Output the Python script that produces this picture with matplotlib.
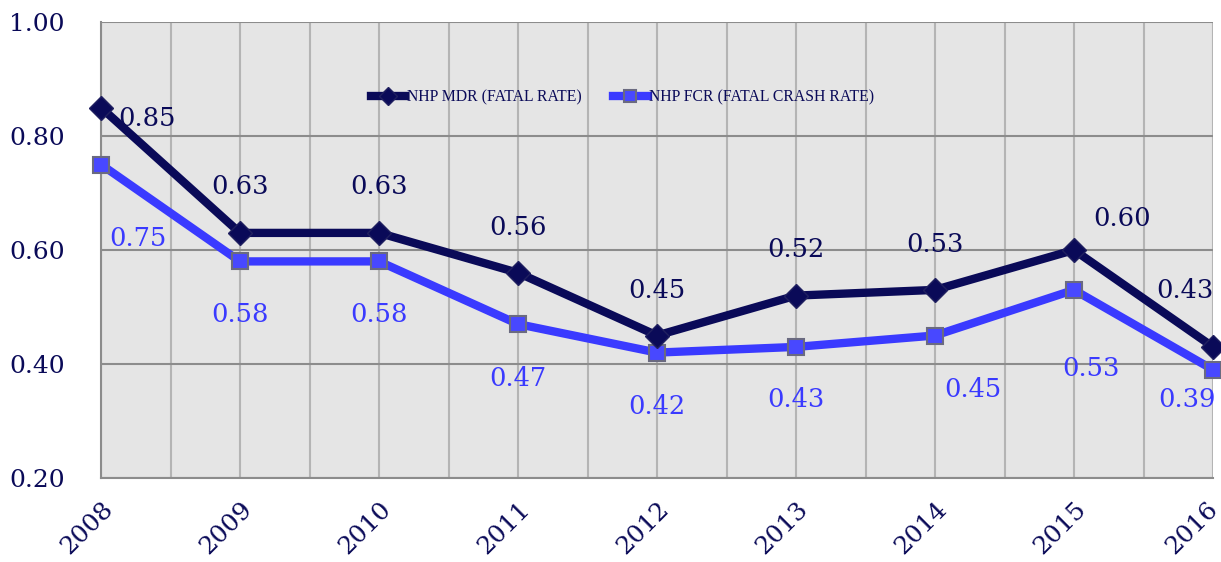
import numpy as np
import matplotlib
matplotlib.use("Agg")
import matplotlib.pyplot as plt
from matplotlib.ticker import MultipleLocator
from matplotlib.transforms import ScaledTranslation

years = [2008, 2009, 2010, 2011, 2012, 2013, 2014, 2015, 2016]
mdr = [0.85, 0.63, 0.63, 0.56, 0.45, 0.52, 0.53, 0.60, 0.43]
fcr = [0.75, 0.58, 0.58, 0.47, 0.42, 0.43, 0.45, 0.53, 0.39]
mdr_name = "NHP MDR (FATAL RATE)"
fcr_name = "NHP FCR (FATAL CRASH RATE)"

navy = "#0a0a58"
blue = "#3a3aff"

# label offsets in pixels (dx, dy), y up
mdr_off = [(46, -11), (0, 46), (0, 46), (0, 45), (0, 45), (0, 46), (0, 45), (48, 32), (-28, 56)]
fcr_off = [(37, -74), (0, -53), (0, -53), (0, -54), (0, -54), (0, -53), (38, -54), (17, -79), (-26, -30)]

fig = plt.figure(figsize=(12.21, 5.62), dpi=100)
ax = fig.add_axes([101 / 1221, 1 - 478 / 562, 1112 / 1221, 456 / 562])
ax.set_facecolor("#e5e5e5")

ax.set_xlim(2008, 2016)
ax.set_ylim(0.2, 1.0)
ax.xaxis.set_minor_locator(MultipleLocator(0.5))
ax.grid(which="major", axis="y", color="#8c8c8c", lw=1.5)
ax.grid(which="minor", axis="x", color="#b4b4b4", lw=1.5)
ax.grid(which="major", axis="x", color="#b4b4b4", lw=1.5)
ax.set_axisbelow(True)
for s in ["top", "right"]:
    ax.spines[s].set_visible(False)
for s in ["left", "bottom"]:
    ax.spines[s].set_color("#8c8c8c")
    ax.spines[s].set_linewidth(1.5)
ax.tick_params(which="both", length=0)
ax.tick_params(axis="y", pad=26)
ax.tick_params(axis="x", pad=14)

yt = np.arange(0.2, 1.01, 0.2)
ax.set_yticks(yt)
ax.set_yticklabels([f"{v:.2f}" for v in yt],
                   fontfamily="DejaVu Serif", fontsize=18, color=navy)
ax.set_xticks(years)
ax.set_xticklabels([str(y) for y in years], rotation=45, ha="right", va="top",
                   rotation_mode="anchor", fontfamily="DejaVu Serif", fontsize=18, color=navy)
last = ax.get_xticklabels()[-1]
last.set_transform(last.get_transform() + ScaledTranslation(-7 / 100, 0, fig.dpi_scale_trans))

ax.plot(years, mdr, color=navy, lw=6, marker="D", ms=12, mfc=navy, mec="#202060",
        mew=1, clip_on=False, label=mdr_name, zorder=4)
ax.plot(years, fcr, color=blue, lw=6, marker="s", ms=12, mfc="#4848ff", mec="#6a6a80",
        mew=1.5, clip_on=False, label=fcr_name, zorder=3)

for x, v, (dx, dy) in zip(years, mdr, mdr_off):
    ax.annotate(f"{v:.2f}", (x, v), xytext=(dx, dy), textcoords="offset pixels",
                ha="center", va="center", fontfamily="DejaVu Serif", fontsize=18.5,
                color=navy, zorder=5)
for x, v, (dx, dy) in zip(years, fcr, fcr_off):
    ax.annotate(f"{v:.2f}", (x, v), xytext=(dx, dy), textcoords="offset pixels",
                ha="center", va="center", fontfamily="DejaVu Serif", fontsize=18.5,
                color=blue, zorder=5)

leg = ax.legend(loc="center", bbox_to_anchor=(0.469, 0.835), ncol=2, frameon=False,
                handlelength=2.2, handletextpad=0.1, columnspacing=2.0,
                prop={"family": "Liberation Serif", "size": 11.3})
for t in leg.get_texts():
    t.set_color(navy)
for h in leg.legend_handles:
    h.set_markersize(9)

fig.savefig("out.png", dpi=100)
